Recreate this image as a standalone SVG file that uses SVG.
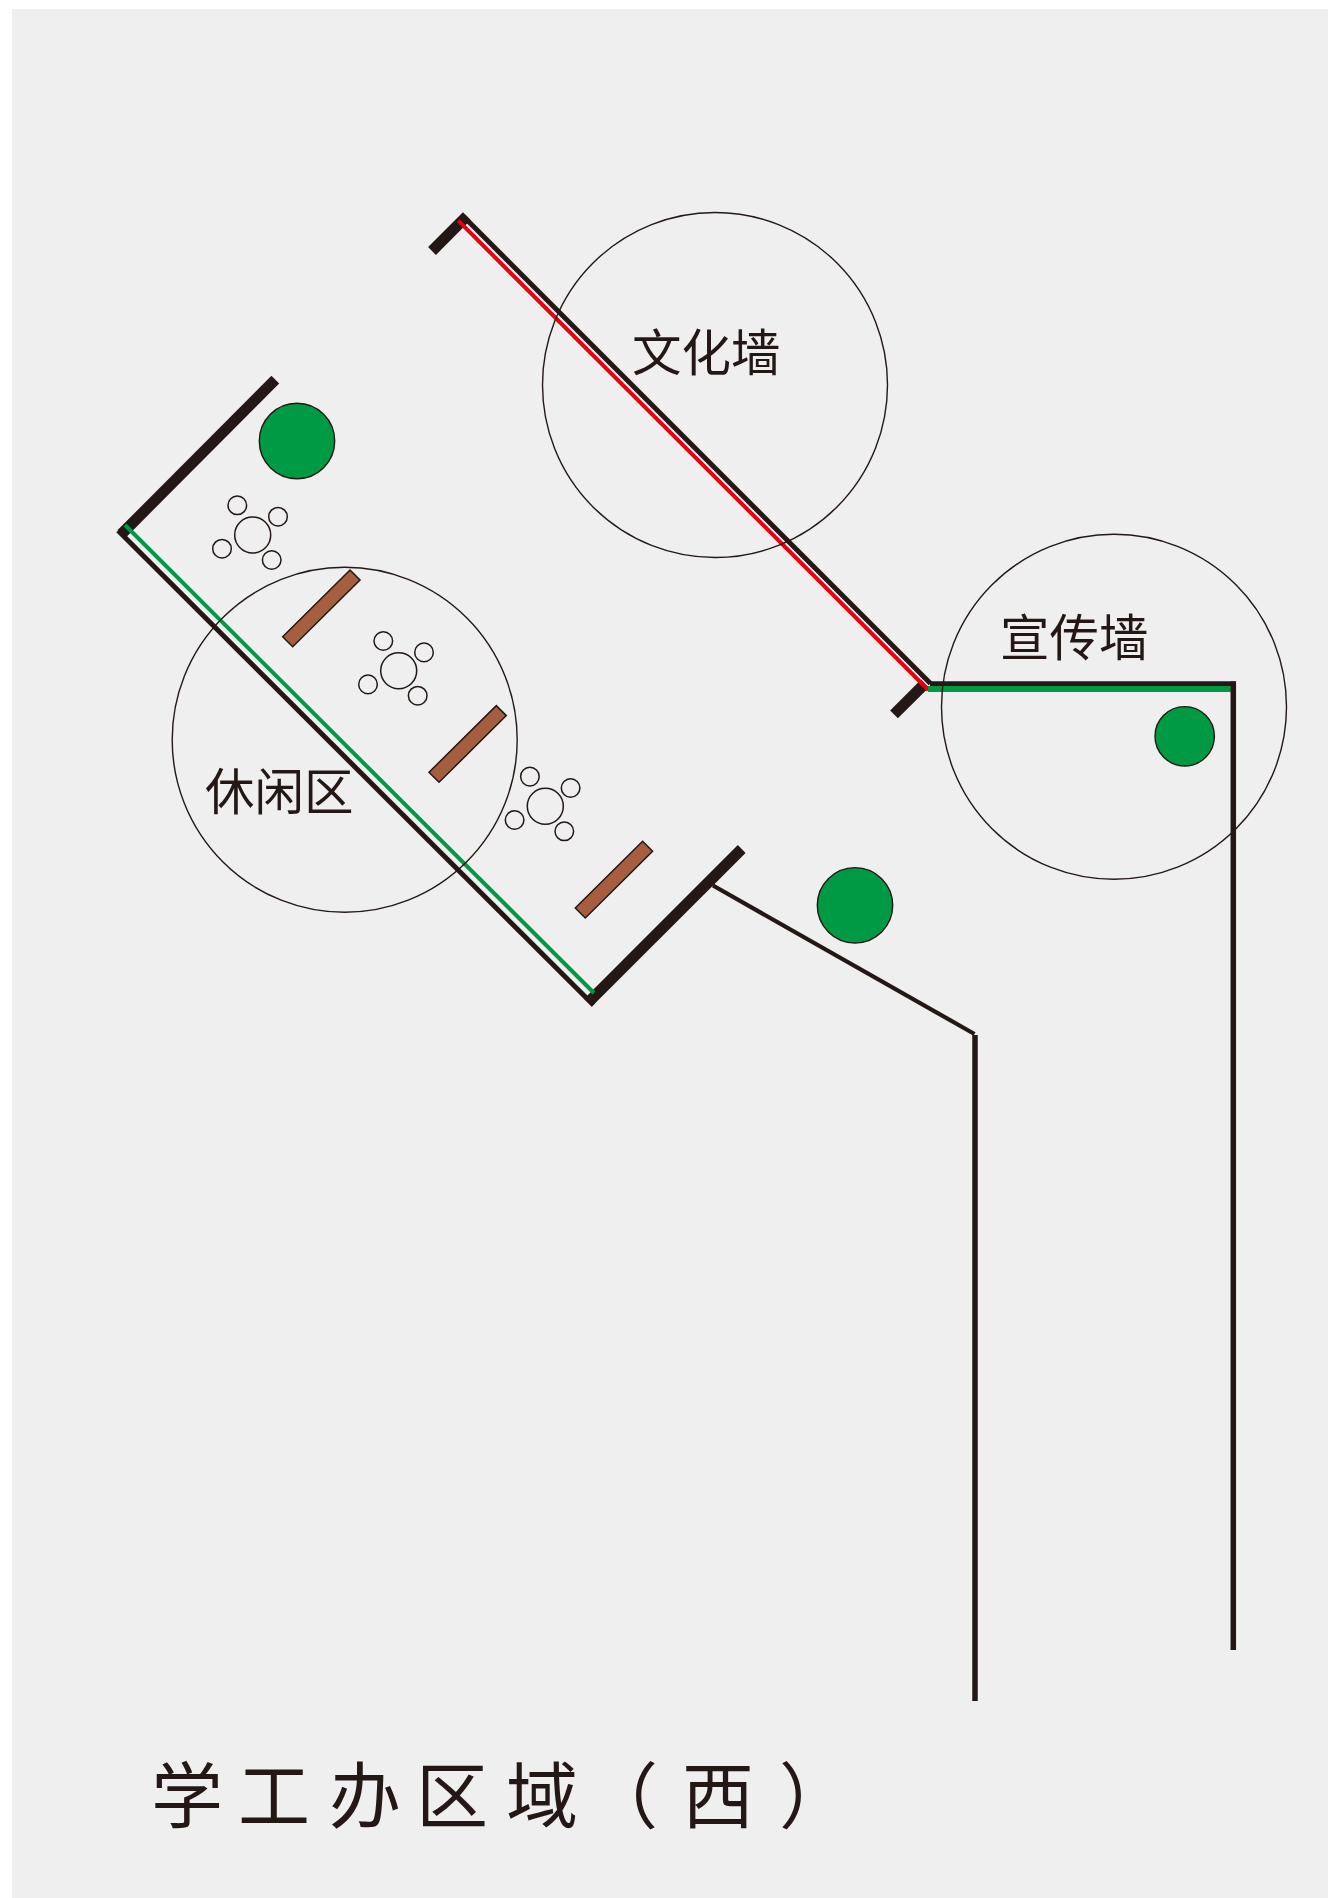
<svg xmlns="http://www.w3.org/2000/svg" width="1328" height="1898" viewBox="0 0 1328 1898">
<style>
.wt{fill:none;stroke:#231815;stroke-width:11;stroke-linecap:butt}
.wm{fill:none;stroke:#231815;stroke-width:5}
.g{fill:none;stroke:#009944;stroke-width:4}
.r{fill:none;stroke:#e60012;stroke-width:4}
.zone{fill:none;stroke:#231815;stroke-width:1.4}
.plant{fill:#009944;stroke:#231815;stroke-width:1.4}
.t{fill:none;stroke:#231815;stroke-width:1.5}
.c{fill:none;stroke:#231815;stroke-width:1.5}
.b{fill:#a55f3f;stroke:#231815;stroke-width:1.5}
text{fill:#231815;font-family:"Noto Sans CJK SC","Noto Sans",sans-serif}
.lb{font-size:49.5px}
.ti{font-size:72px}
</style>
<defs>
<g id="tableset">
<circle class="t" cx="252.7" cy="535" r="18"/>
<circle class="c" cx="237.3" cy="505.3" r="9.3"/>
<circle class="c" cx="278" cy="516.7" r="9.3"/>
<circle class="c" cx="222" cy="548.7" r="9.3"/>
<circle class="c" cx="271.7" cy="560" r="9.3"/>
</g>
<polygon id="bench" class="b" points="350,570 360,580 292.7,646.7 282.7,636.7"/>
</defs>
<rect x="12" y="9" width="1316" height="1889" fill="#efefef"/>
<g id="walls">
<line class="wt" x1="275.3" y1="379.7" x2="121.5" y2="534"/>
<line class="wm" x1="118" y1="530.5" x2="593.5" y2="1005"/>
<line class="wt" x1="588" y1="1002.7" x2="741.7" y2="849"/>
<line class="g" x1="125" y1="525" x2="594" y2="993"/>
<polyline style="fill:none;stroke:#231815;stroke-width:4.2" points="713,885.5 974.5,1034"/>
<line class="wm" style="stroke-width:5.5" x1="975" y1="1035" x2="975" y2="1701"/>
<line class="wt" x1="432" y1="251" x2="466.8" y2="216.2"/>
<line class="wm" x1="463.3" y1="216.3" x2="930.5" y2="683.5"/>
<line class="wt" x1="894" y1="714.3" x2="925" y2="683.5"/>
<line class="r" x1="458.3" y1="220.7" x2="928.3" y2="690"/>
<line class="wm" x1="930" y1="683.8" x2="1236" y2="683.8"/>
<line x1="928" y1="689" x2="1231.5" y2="689" style="stroke:#009944;stroke-width:6"/>
<line class="wm" style="stroke-width:5.5" x1="1233.3" y1="681.5" x2="1233.3" y2="1650"/>
</g>
<g id="zone-culture"><circle class="zone" cx="715" cy="385" r="172.5"/><text class="lb" x="632" y="371">文化墙</text></g>
<g id="zone-promo"><circle class="zone" cx="1114" cy="706.8" r="172.5"/><text class="lb" x="1000" y="656">宣传墙</text></g>
<g id="zone-rest"><circle class="zone" cx="344.7" cy="739.8" r="172.5"/><text class="lb" x="205" y="810">休闲区</text></g>
<g id="plant-1"><circle class="plant" cx="297" cy="441" r="37.7"/></g>
<g id="plant-2"><circle class="plant" cx="855" cy="905.3" r="37.7"/></g>
<g id="plant-3"><circle class="plant" cx="1184.7" cy="736.3" r="29.7"/></g>
<g id="tables-1"><use href="#tableset"/></g>
<g id="tables-2"><use href="#tableset" x="146" y="135.7"/></g>
<g id="tables-3"><use href="#tableset" x="292.6" y="271.3"/></g>
<g id="bench-1"><use href="#bench"/></g>
<g id="bench-2"><use href="#bench" x="146.3" y="135.6"/></g>
<g id="bench-3"><use href="#bench" x="292.6" y="271.3"/></g>
<g id="title"><text class="ti" x="151 238 329 416 506 586 682 779" y="1822">学工办区域（西）</text></g>
</svg>
